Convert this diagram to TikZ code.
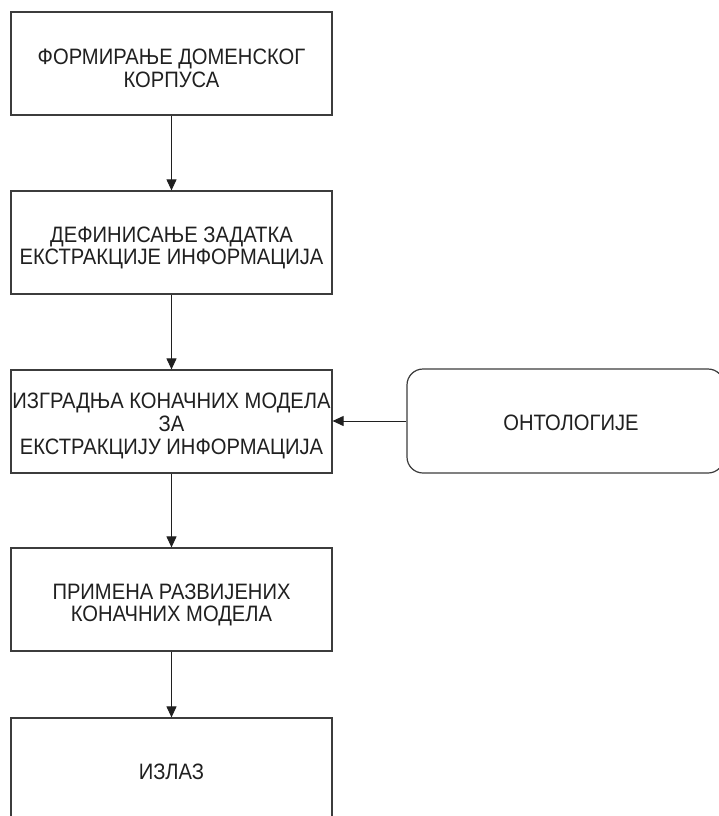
\documentclass[tikz,border=0pt]{standalone}
\usepackage{fontspec}
\setmainfont[FakeStretch=0.905]{Liberation Sans}
\usetikzlibrary{arrows.meta}
\definecolor{edge}{HTML}{3C3C3C}
\definecolor{ink}{HTML}{202020}
% stacked, centred lines; the box is smashed so that the node's
% text height / depth alone decide where the lines sit
\newcommand{\boxlines}[1]{\smash{\begin{tabular}[t]{@{}c@{}}#1\end{tabular}}}
\begin{document}
\begin{tikzpicture}[x=1pt,y=-1pt,
  stepbox/.style={draw=edge, line width=1.2pt, rectangle,
    minimum width=321pt, minimum height=103pt, inner sep=0pt,
    text=ink, font=\fontsize{22.3pt}{22.7pt}\selectfont},
  sourcebox/.style={stepbox, rounded corners=16pt, minimum width=317pt, minimum height=104pt},
  flow/.style={draw=ink, line width=1pt, -{Triangle[length=11pt,width=10pt]}}
]
\useasboundingbox[fill=white] (0,0) rectangle (719,816);

\node[stepbox, text height=25pt, text depth=22.7pt] (corpus) at (171.5,63.5)
  {\boxlines{ФОРМИРАЊЕ ДОМЕНСКОГ\\КОРПУСА}};
\node[stepbox, text height=22pt, text depth=22.7pt] (task) at (171.5,242.5)
  {\boxlines{ДЕФИНИСАЊЕ ЗАДАТКА\\ЕКСТРАКЦИЈЕ ИНФОРМАЦИЈА}};
\node[stepbox, text height=20pt, text depth=45.4pt] (models) at (171.5,421.5)
  {\boxlines{ИЗГРАДЊА КОНАЧНИХ МОДЕЛА\\ЗА\\ЕКСТРАКЦИЈУ ИНФОРМАЦИЈА}};
\node[stepbox, text height=22pt, text depth=22.7pt] (apply) at (171.5,599.5)
  {\boxlines{ПРИМЕНА РАЗВИЈЕНИХ\\КОНАЧНИХ МОДЕЛА}};
\node[stepbox, text height=19.6pt, text depth=0pt] (output) at (171.5,769.5)
  {\boxlines{ИЗЛАЗ}};

\node[sourcebox, text height=19pt, text depth=0pt] (onto) at (565.5,421)
  {\boxlines{\hspace*{11pt}ОНТОЛОГИЈЕ}};

\draw[flow] (corpus) -- (task);
\draw[flow] (task) -- (models);
\draw[flow] (models) -- (apply);
\draw[flow] (apply) -- (output);
\draw[flow] (onto.west) -- (models.east |- onto.west);
\end{tikzpicture}
\end{document}
